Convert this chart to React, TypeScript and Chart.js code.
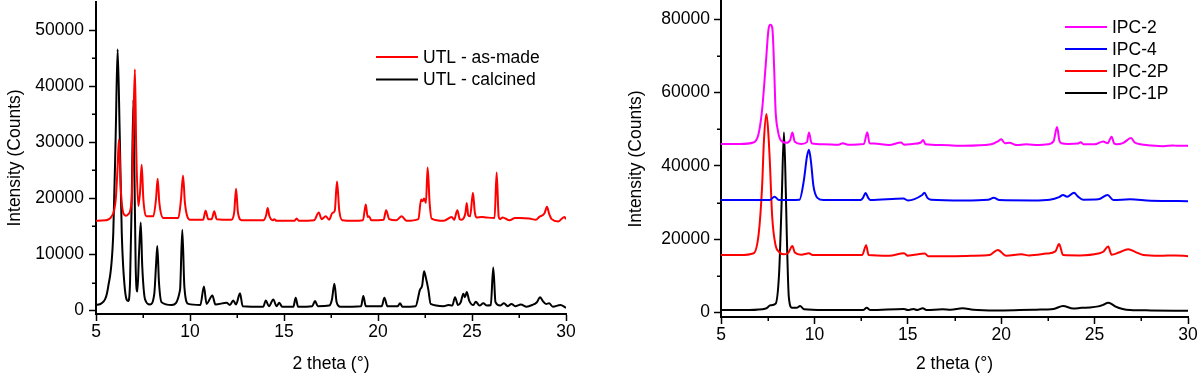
import React, { useEffect, useRef } from "react";
import { Chart, registerables } from "chart.js";

Chart.register(...registerables);

const FONT_FAMILY = "'Liberation Sans', Arial, sans-serif";
const FONT_SIZE = 17.5;

// ---------- Left panel: UTL ----------
const utlAsMade: [number, number][] = [
  [5.0, 16000], [5.5, 16100], [5.83, 16800], [6.05, 19800], [6.15, 25700], [6.22, 30500], [6.31, 22200],
  [6.45, 17400], [6.6, 16900], [6.72, 17200], [6.9, 19800], [6.98, 31700], [7.07, 43000], [7.14, 28700],
  [7.25, 18600], [7.34, 21000], [7.43, 26000], [7.52, 19800], [7.7, 16800], [8.05, 16800], [8.19, 19800],
  [8.28, 23500], [8.37, 19200], [8.58, 16500], [9.38, 16500], [9.52, 19800], [9.63, 24100], [9.73, 19200],
  [10.0, 16200], [10.7, 16200], [10.83, 17800], [10.97, 16300], [11.15, 16300], [11.29, 17700], [11.42, 16300],
  [12.2, 16200], [12.35, 17500], [12.45, 21700], [12.55, 17500], [12.75, 16100], [13.9, 16100], [14.05, 17000],
  [14.13, 18300], [14.22, 16900], [14.4, 16100], [14.48, 16300], [14.6, 16000], [15.55, 16000], [15.67, 16400],
  [15.8, 16000], [16.6, 16100], [16.85, 17500], [17.0, 16300], [17.22, 16800], [17.4, 16200], [17.57, 17400],
  [17.7, 17800], [17.82, 23000], [17.94, 17800], [18.1, 16100], [18.69, 16000], [19.2, 16100], [19.35, 18900],
  [19.45, 16700], [19.52, 16800], [19.65, 16100], [20.3, 16200], [20.43, 17900], [20.6, 16300], [20.96, 16100],
  [21.26, 16800], [21.52, 16000], [22.15, 16300], [22.29, 19800], [22.37, 19500], [22.45, 20000], [22.55, 19200],
  [22.64, 25500], [22.75, 19000], [22.85, 16400], [23.5, 16000], [23.92, 16700], [24.05, 16200], [24.22, 17900],
  [24.35, 16300], [24.45, 16200], [24.65, 17400], [24.72, 19200], [24.8, 17000], [24.9, 16800], [25.05, 21000],
  [25.15, 17500], [25.24, 16600], [25.52, 16700], [25.78, 16600], [26.2, 16500], [26.31, 24600], [26.42, 16700],
  [26.49, 16300], [26.63, 16600], [27.0, 16100], [27.29, 16500], [27.55, 16500], [28.05, 16400], [28.4, 16200],
  [28.58, 16700], [28.85, 17300], [28.99, 18500], [29.1, 17300], [29.24, 16300], [29.59, 15900], [29.91, 16700],
  [30.0, 16300],
];

const utlCalcined: [number, number][] = [
  [5.0, 1000], [5.3, 1300], [5.65, 4300], [5.92, 13900], [6.05, 31700], [6.15, 46600], [6.26, 31700],
  [6.37, 13900], [6.54, 3700], [6.72, 1700], [6.81, 5000], [6.9, 19800], [6.99, 37600], [7.04, 25700],
  [7.11, 7900], [7.2, 3400], [7.29, 10300], [7.38, 15700], [7.46, 7900], [7.61, 2000], [7.87, 1100],
  [8.1, 3000], [8.19, 7900], [8.26, 11500], [8.35, 5000], [8.49, 1500], [9.03, 1000], [9.47, 3700],
  [9.59, 14400], [9.7, 4300], [9.91, 1200], [10.55, 1000], [10.74, 4300], [10.88, 1200], [11.19, 2700],
  [11.35, 1100], [11.95, 1400], [12.12, 1000], [12.3, 1800], [12.45, 1100], [12.66, 3100], [12.8, 800],
  [13.9, 700], [14.03, 1800], [14.2, 800], [14.43, 2000], [14.6, 800], [14.75, 1400], [14.9, 700],
  [15.5, 700], [15.62, 2300], [15.75, 700], [16.5, 800], [16.65, 1700], [16.8, 800], [17.4, 900],
  [17.55, 2000], [17.68, 4800], [17.8, 1500], [18.0, 700], [19.1, 800], [19.22, 2600], [19.35, 800],
  [20.2, 800], [20.34, 2300], [20.5, 800], [21.05, 800], [21.17, 1300], [21.3, 700], [22.0, 800],
  [22.23, 3700], [22.35, 4500], [22.45, 7000], [22.55, 5800], [22.68, 3700], [22.8, 1200], [23.5, 800],
  [23.74, 1000], [23.95, 900], [24.1, 2400], [24.25, 1000], [24.4, 1500], [24.54, 3000], [24.62, 2400],
  [24.72, 3300], [24.85, 1800], [25.07, 1000], [25.2, 1600], [25.4, 900], [25.6, 1300], [25.8, 900],
  [26.0, 1000], [26.13, 7700], [26.25, 1500], [26.49, 900], [26.7, 1300], [26.9, 800], [27.1, 1200],
  [27.3, 800], [27.6, 1100], [27.9, 700], [28.2, 1000], [28.45, 1500], [28.62, 2400], [28.75, 1800],
  [28.94, 1200], [29.1, 1300], [29.3, 700], [29.7, 1000], [30.0, 500],
];

// ---------- Right panel: IPC ----------
const ipc2: [number, number][] = [
  [5.0, 46000], [6.0, 46000], [6.74, 46400], [7.0, 48500], [7.2, 55300], [7.4, 68000], [7.55, 77500],
  [7.65, 78500], [7.75, 77500], [7.85, 66000], [7.92, 55300], [8.05, 49500], [8.19, 47100], [8.5, 46300],
  [8.7, 47000], [8.82, 49100], [8.95, 46600], [9.3, 46000], [9.6, 46500], [9.71, 49100], [9.85, 46200],
  [10.5, 45900], [11.3, 45800], [11.52, 46200], [11.8, 45800], [12.65, 46000], [12.83, 49200], [12.95, 46200],
  [13.19, 46100], [14.0, 45700], [14.64, 46400], [14.8, 45800], [15.25, 46000], [15.7, 46400], [15.82, 47100],
  [15.95, 45900], [16.8, 45700], [18.0, 45500], [19.46, 45900], [19.85, 46800], [20.0, 47300], [20.2, 46200],
  [20.45, 46300], [20.8, 45700], [21.34, 45900], [22.0, 45700], [22.5, 45900], [22.8, 46700], [22.99, 50600],
  [23.12, 46800], [23.23, 46200], [23.58, 46000], [24.1, 46100], [24.26, 46500], [24.4, 45900], [25.0, 45900],
  [25.46, 46700], [25.7, 46200], [25.91, 48000], [26.05, 46100], [26.18, 45900], [26.54, 46300], [26.95, 47600],
  [27.15, 46400], [27.45, 45900], [28.0, 45600], [28.69, 45400], [29.2, 45600], [29.41, 45500], [30.0, 45500],
];

const ipc4: [number, number][] = [
  [5.0, 30700], [6.5, 30700], [7.6, 30700], [7.87, 31600], [8.1, 30700], [9.2, 30800], [9.44, 36200],
  [9.6, 42500], [9.71, 44400], [9.82, 41000], [9.95, 34500], [10.16, 31300], [10.5, 30700], [12.47, 30700],
  [12.6, 31300], [12.74, 32600], [12.88, 31300], [13.0, 30700], [14.77, 31100], [15.0, 30600], [15.75, 32000],
  [15.89, 32700], [16.05, 31300], [16.24, 30800], [18.0, 30600], [19.3, 30800], [19.6, 31300], [19.9, 30700],
  [21.7, 30600], [22.6, 30800], [23.1, 31500], [23.31, 32100], [23.53, 31600], [23.9, 32700], [24.1, 31700],
  [24.39, 30800], [25.2, 30900], [25.7, 32100], [26.0, 30700], [26.9, 30900], [28.0, 30500], [30.0, 30400],
];

const ipc2P: [number, number][] = [
  [5.0, 15700], [6.0, 15700], [6.75, 16200], [7.02, 21600], [7.2, 34400], [7.3, 47100], [7.43, 54200],
  [7.52, 50000], [7.61, 41700], [7.74, 26200], [7.92, 18400], [8.1, 16600], [8.37, 15900], [8.6, 16300],
  [8.82, 18200], [8.95, 16400], [9.3, 15800], [9.71, 16200], [9.9, 15700], [12.56, 15700], [12.77, 18400],
  [12.9, 15700], [14.0, 15500], [14.8, 16200], [15.0, 15500], [15.28, 15700], [15.91, 16100], [16.1, 15400],
  [17.5, 15400], [19.0, 15600], [19.37, 15700], [19.82, 17100], [20.27, 15500], [21.08, 15900], [21.5, 15600],
  [22.42, 16100], [22.9, 16700], [23.1, 18700], [23.31, 15700], [24.2, 15600], [25.2, 16100], [25.46, 16600],
  [25.73, 18000], [25.91, 15800], [26.3, 16400], [26.8, 17300], [27.2, 16500], [27.61, 15700], [28.5, 15500],
  [29.3, 15600], [30.0, 15400],
];

const ipc1P: [number, number][] = [
  [5.0, 700], [6.5, 700], [7.4, 1100], [7.65, 2000], [7.92, 2400], [8.11, 10700], [8.25, 30700],
  [8.37, 49200], [8.47, 33000], [8.52, 21600], [8.63, 4300], [8.8, 1300], [9.05, 1300], [9.23, 1800],
  [9.45, 900], [10.5, 700], [12.6, 700], [12.8, 1300], [13.0, 700], [14.8, 1000], [15.0, 700],
  [15.3, 1000], [15.5, 700], [15.8, 1200], [16.0, 700], [16.86, 900], [17.3, 800], [17.93, 1200],
  [18.5, 800], [19.73, 600], [21.0, 700], [21.88, 800], [22.8, 1000], [23.31, 1800], [23.85, 1100],
  [24.3, 1300], [24.75, 1400], [25.2, 1700], [25.46, 2100], [25.73, 2700], [25.9, 2400], [26.1, 1700],
  [26.5, 1000], [26.9, 700], [28.0, 600], [30.0, 500],
];

// ---------- Ticks ----------
const xMajorTicks = [5, 10, 15, 20, 25, 30];
const xMinorTicks = [7.5, 12.5, 17.5, 22.5, 27.5];
const leftYMajor = [0, 10000, 20000, 30000, 40000, 50000];
const leftYMinor = [5000, 15000, 25000, 35000, 45000];
const rightYMajor = [0, 20000, 40000, 60000, 80000];
const rightYMinor = [10000, 30000, 50000, 70000];

const xTitle = "2 theta (\u00b0)";
const yTitle = "Intensity (Counts)";

type Series = { label: string; color: string; points: [number, number][] };

const leftSeries: Series[] = [
  { label: "UTL - as-made", color: "#ff0000", points: utlAsMade },
  { label: "UTL - calcined", color: "#000000", points: utlCalcined },
];

const rightSeries: Series[] = [
  { label: "IPC-2", color: "#ff00ff", points: ipc2 },
  { label: "IPC-4", color: "#0000ff", points: ipc4 },
  { label: "IPC-2P", color: "#ff0000", points: ipc2P },
  { label: "IPC-1P", color: "#000000", points: ipc1P },
];

const font = { family: FONT_FAMILY, size: FONT_SIZE, lineHeight: 1.2 };

const extrasPlugin = {
  id: "extras",
  afterDraw(chart: any, _args: any, opts: any) {
    const ctx = chart.ctx;
    const ca = chart.chartArea;
    const xs = chart.scales.x;
    const ys = chart.scales.y;
    ctx.save();
    ctx.strokeStyle = "#000";
    ctx.lineWidth = 1.5;
    ctx.beginPath();
    for (const v of opts.xMinor) {
      const px = Math.round(xs.getPixelForValue(v)) + 0.25;
      ctx.moveTo(px, ca.bottom);
      ctx.lineTo(px, ca.bottom + opts.minorLen);
    }
    for (const v of opts.yMinor) {
      const py = Math.round(ys.getPixelForValue(v)) + 0.25;
      ctx.moveTo(ca.left, py);
      ctx.lineTo(ca.left - opts.minorLen, py);
    }
    ctx.stroke();

    // legend
    ctx.font = `${FONT_SIZE}px ${FONT_FAMILY}`;
    ctx.textBaseline = "middle";
    ctx.textAlign = "left";
    chart.data.datasets.forEach((ds: any, i: number) => {
      const y = opts.legendY + i * opts.legendGap;
      ctx.strokeStyle = ds.borderColor;
      ctx.lineWidth = 2;
      ctx.beginPath();
      ctx.moveTo(opts.legendX, y);
      ctx.lineTo(opts.legendX + opts.legendLen, y);
      ctx.stroke();
      ctx.fillStyle = "#000";
      ctx.fillText(ds.label, opts.legendX + opts.legendLen + 5, y + 1);
    });
    ctx.restore();
  },
};

type PanelCfg = {
  series: Series[];
  yMin: number;
  yMax: number;
  yMajor: number[];
  yMinor: number[];
  yAxisWidth: number;
  xAxisHeight: number;
  padTop: number;
  padRight: number;
  yTitlePad: number;
  yTickPad: number;
  legendX: number;
  legendY: number;
  legendGap: number;
};

function buildConfig(p: PanelCfg): any {
  return {
    type: "line",
    data: {
      datasets: p.series.map((s) => ({
        label: s.label,
        data: s.points.map(([x, y]) => ({ x, y })),
        borderColor: s.color,
        backgroundColor: s.color,
        borderWidth: 2,
        pointRadius: 0,
        fill: false,
        cubicInterpolationMode: "monotone",
      })),
    },
    options: {
      animation: false,
      responsive: false,
      maintainAspectRatio: false,
      devicePixelRatio: 1,
      layout: { padding: { top: p.padTop, right: p.padRight, left: 0, bottom: 0 } },
      plugins: {
        legend: { display: false },
        tooltip: { enabled: false },
        extras: {
          xMinor: xMinorTicks,
          yMinor: p.yMinor,
          minorLen: 4,
          legendX: p.legendX,
          legendY: p.legendY,
          legendGap: p.legendGap,
          legendLen: 42,
        },
      },
      scales: {
        x: {
          type: "linear",
          min: 5,
          max: 30,
          afterBuildTicks: (s: any) => {
            s.ticks = xMajorTicks.map((v) => ({ value: v }));
          },
          afterFit: (s: any) => {
            s.height = p.xAxisHeight;
            s.paddingLeft = 0;
            s.paddingRight = 0;
            s.paddingTop = 0;
            s.paddingBottom = 0;
          },
          ticks: { font, color: "#000", padding: 1, maxRotation: 0, autoSkip: false },
          grid: { display: true, drawOnChartArea: false, tickLength: 7, tickColor: "#000", tickWidth: 1.5 },
          border: { display: true, color: "#000", width: 2 },
          title: { display: true, text: xTitle, font, color: "#000", padding: { top: 0, bottom: 3.5 } },
        },
        y: {
          type: "linear",
          min: p.yMin,
          max: p.yMax,
          afterBuildTicks: (s: any) => {
            s.ticks = p.yMajor.map((v) => ({ value: v }));
          },
          afterFit: (s: any) => {
            s.width = p.yAxisWidth;
            s.paddingLeft = 0;
            s.paddingRight = 0;
            s.paddingTop = 0;
            s.paddingBottom = 0;
          },
          ticks: { font, color: "#000", padding: p.yTickPad, autoSkip: false, callback: (v: any) => String(v) },
          grid: { display: true, drawOnChartArea: false, tickLength: 7, tickColor: "#000", tickWidth: 1.5 },
          border: { display: true, color: "#000", width: 2 },
          title: { display: true, text: yTitle, font, color: "#000", padding: { top: p.yTitlePad, bottom: 0 } },
        },
      },
    },
    plugins: [extrasPlugin],
  };
}

function Panel({ cfg, left }: { cfg: PanelCfg; left: number }) {
  const ref = useRef<HTMLCanvasElement | null>(null);
  useEffect(() => {
    if (!ref.current) return;
    const chart = new Chart(ref.current, buildConfig(cfg));
    return () => chart.destroy();
  }, []);
  return (
    <canvas
      ref={ref}
      width={600}
      height={378}
      style={{ position: "absolute", left, top: 0, width: 600, height: 378 }}
    />
  );
}

const leftCfg: PanelCfg = {
  series: leftSeries,
  yMin: -600,
  yMax: 55000,
  yMajor: leftYMajor,
  yMinor: leftYMinor,
  yAxisWidth: 96,
  xAxisHeight: 64,
  padTop: 2,
  padRight: 34,
  yTitlePad: 4.5,
  yTickPad: 5,
  legendX: 376,
  legendY: 57,
  legendGap: 22.5,
};

const rightCfg: PanelCfg = {
  series: rightSeries,
  yMin: -1200,
  yMax: 85000,
  yMajor: rightYMajor,
  yMinor: rightYMinor,
  yAxisWidth: 121,
  xAxisHeight: 61,
  padTop: 1,
  padRight: 12,
  yTitlePad: 25.5,
  yTickPad: 4,
  legendX: 465,
  legendY: 27,
  legendGap: 22,
};

export default function App() {
  return (
    <div
      style={{
        position: "fixed",
        left: 0,
        top: 0,
        width: 1200,
        height: 378,
        background: "#fff",
        overflow: "hidden",
      }}
    >
      <Panel cfg={leftCfg} left={0} />
      <Panel cfg={rightCfg} left={600} />
    </div>
  );
}
